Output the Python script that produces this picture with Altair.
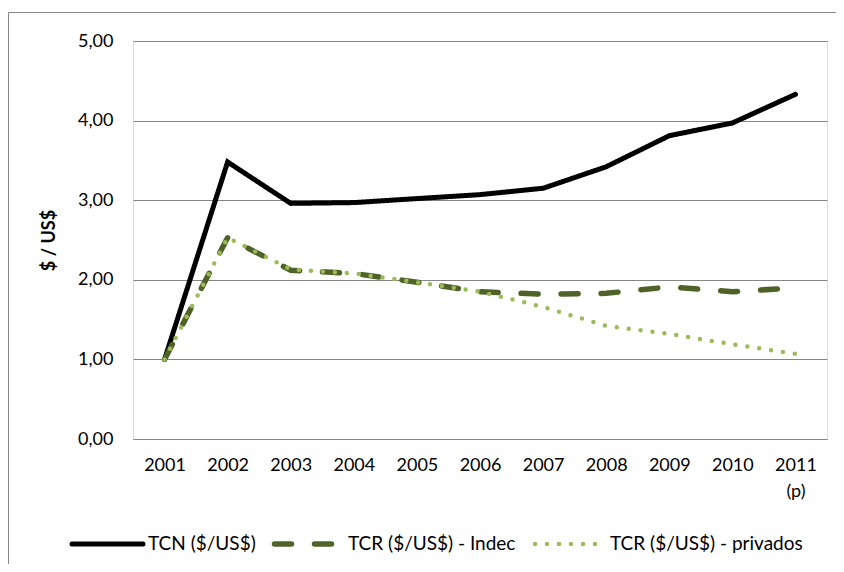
import altair as alt
import pandas as pd

years = ["2001", "2002", "2003", "2004", "2005", "2006", "2007", "2008", "2009", "2010", "2011 (p)"]
series = ["TCN ($/US$)", "TCR ($/US$) - Indec", "TCR ($/US$) - privados"]
tcn = [1.00, 3.48, 2.96, 2.97, 3.02, 3.07, 3.15, 3.42, 3.81, 3.97, 4.33]
tcr_indec = [1.00, 2.53, 2.12, 2.08, 1.97, 1.85, 1.82, 1.83, 1.91, 1.85, 1.90]
tcr_priv = [1.00, 2.53, 2.13, 2.08, 1.97, 1.85, 1.66, 1.42, 1.32, 1.19, 1.07]
y_ticks = [0, 1, 2, 3, 4, 5]
title_text = "Argentina 2001 - 2011"
y_title = "$ / US$"

rows = []
for name, vals in zip(series, [tcn, tcr_indec, tcr_priv]):
    for yr, v in zip(years, vals):
        rows.append({"year": yr, "serie": name, "value": v})
df = pd.DataFrame(rows)

FONT = "Lato"
W, H = 694, 398
PAD = {"left": 125, "top": 33, "right": 9, "bottom": 125}
TOTAL_W = PAD["left"] + W + PAD["right"]
TOTAL_H = PAD["top"] + H + PAD["bottom"]
GRID = "#868686"

styles = {
    series[0]: dict(color="#000000", strokeWidth=5, strokeDash=[1, 0]),
    series[1]: dict(color="#4F6228", strokeWidth=5.5, strokeDash=[17, 23]),
    series[2]: dict(color="#9BBB59", strokeWidth=4.5, strokeDash=[0, 12]),
}

base = alt.Chart(df).encode(
    x=alt.X(
        "year:N",
        sort=years,
        scale=alt.Scale(domain=years),
        axis=alt.Axis(
            title=None,
            labelAngle=0,
            labelExpr="split(datum.label, ' ')",
            labelFont=FONT,
            labelFontSize=18,
            labelColor="#000000",
            labelPadding=17,
            labelLineHeight=26,
            labelBaseline="top",
            ticks=False,
            domainColor=GRID,
            domainWidth=1,
            grid=False,
        ),
    ),
    y=alt.Y(
        "value:Q",
        scale=alt.Scale(domain=[0, 5], nice=False, zero=True),
        axis=alt.Axis(
            title=y_title,
            values=y_ticks,
            labelExpr="replace(format(datum.value, '.2f'), '.', ',')",
            labelFont=FONT,
            labelFontSize=18,
            labelColor="#000000",
            labelPadding=20,
            ticks=False,
            domain=False,
            grid=True,
            gridColor=GRID,
            gridWidth=1,
            titleFont=FONT,
            titleFontSize=18,
            titleFontWeight="bold",
            titleColor="#000000",
            titlePadding=19,
        ),
    ),
)

line_layers = []
for name in series:
    s = styles[name]
    line_layers.append(
        base.transform_filter(alt.datum.serie == name).mark_line(
            color=s["color"],
            strokeWidth=s["strokeWidth"],
            strokeDash=s["strokeDash"],
            strokeCap="round",
            strokeJoin="miter",
        )
    )

# custom legend (layout positions in plot coordinates)
one = alt.Data(values=[{}])
LEG_Y = 503
legend_layout = {
    series[0]: (-61, 10, 15),
    series[1]: (141.5, 198.5, 215),
    series[2]: (402, 463, 477),
}
legend_layers = []
for name in series:
    s = styles[name]
    x0, x1, xt = legend_layout[name]
    legend_layers.append(
        alt.Chart(one).mark_rule(
            color=s["color"],
            strokeWidth=s["strokeWidth"],
            strokeDash=s["strokeDash"],
            strokeCap="round",
        ).encode(x=alt.value(x0), x2=alt.value(x1), y=alt.value(LEG_Y))
    )
    legend_layers.append(
        alt.Chart(one).mark_text(
            align="left", baseline="middle", font=FONT, fontSize=19, color="#000000"
        ).encode(x=alt.value(xt), y=alt.value(LEG_Y), text=alt.value(name))
    )

# chart-area frame: only its top and left edges fall inside the window
border_top = alt.Chart(one).mark_rule(color=GRID, strokeWidth=1).encode(
    x=alt.value(-PAD["left"] + 0.5), x2=alt.value(TOTAL_W - PAD["left"]), y=alt.value(-28.5)
)
border_left = alt.Chart(one).mark_rule(color=GRID, strokeWidth=1).encode(
    x=alt.value(-PAD["left"] + 0.5), y=alt.value(-28.5), y2=alt.value(TOTAL_H - PAD["top"])
)

title = alt.Chart(one).mark_text(
    align="center", baseline="alphabetic", font=FONT, fontSize=24, fontWeight="bold", color="#000000"
).encode(x=alt.value(299), y=alt.value(-37), text=alt.value(title_text))

chart = alt.layer(border_top, border_left, title, *line_layers, *legend_layers).properties(
    width=W,
    height=H,
    autosize=alt.AutoSizeParams(type="none"),
    padding=PAD,
).configure_view(stroke=None).configure(font=FONT)

chart.save("out.html", embed_options={"renderer": "svg", "actions": False})
